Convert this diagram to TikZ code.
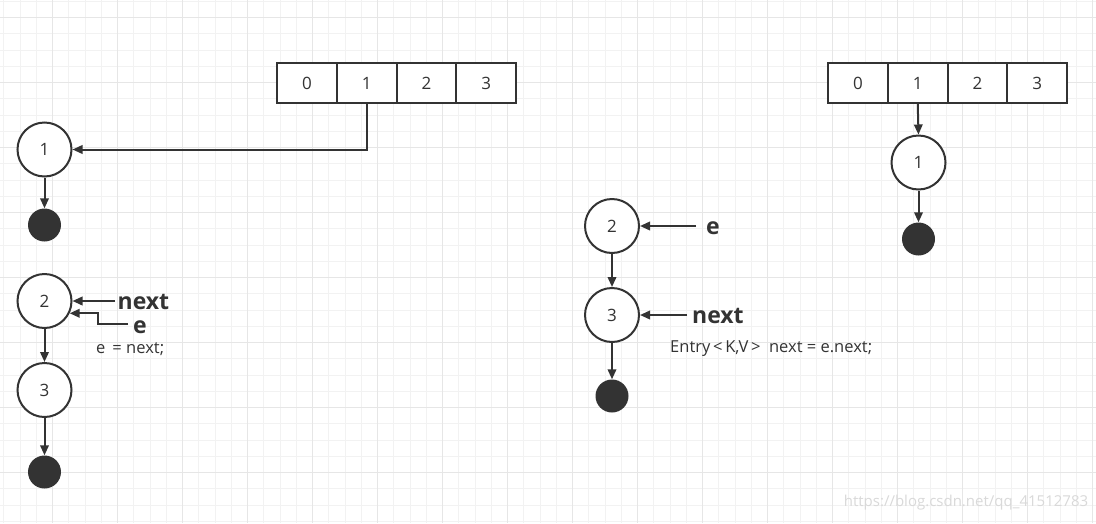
\documentclass[tikz,border=0pt]{standalone}
\usepackage{fontspec}
\setmainfont{Open Sans}
\usetikzlibrary{arrows.meta}
\definecolor{lc}{HTML}{333333}
\definecolor{gmin}{HTML}{F2F2F2}
\definecolor{gmaj}{HTML}{E6E6E6}
\definecolor{wm}{HTML}{D9D9D9}
\begin{document}
\begin{tikzpicture}[x=1pt,y=-1pt,
  circ/.style={circle, draw=lc, line width=2pt, minimum size=54pt, inner sep=0pt, fill=white, text=lc, font=\fontsize{17}{17}\selectfont},
  blob/.style={circle, fill=lc, minimum size=33pt, inner sep=0pt},
  cell/.style={rectangle, draw=lc, line width=2pt, minimum width=59.75pt, minimum height=40pt, inner sep=0pt, fill=white, text=lc, font=\fontsize{17}{17}\selectfont},
  arr/.style={-{Triangle[length=10pt,width=8.5pt]}, line width=2pt, draw=lc},
  lbl/.style={text=lc, font=\bfseries\fontsize{23}{23}\selectfont, inner sep=0pt, anchor=west},
  code/.style={text=lc, font=\fontsize{16.5}{16.5}\selectfont, inner sep=0pt, anchor=west}]
\useasboundingbox (0,0) rectangle (1096,523);
\fill[white] (0,0) rectangle (1096,523);
% grid
\foreach \i in {0,...,67} {\draw[gmin, line width=1pt] (3.75+16.25*\i,0) -- (3.75+16.25*\i,523);}
\foreach \i in {0,...,32} {\draw[gmin, line width=1pt] (0,1.25+16.25*\i) -- (1096,1.25+16.25*\i);}
\foreach \i in {0,...,16} {\draw[gmaj, line width=1pt] (52.5+65*\i,0) -- (52.5+65*\i,523);}
\foreach \i in {0,...,7} {\draw[gmaj, line width=1pt] (0,17.5+65*\i) -- (1096,17.5+65*\i);}
% left array
\foreach \k in {0,1,2,3} {\node[cell] (a\k) at (306.9+59.75*\k,83) {\k};}
\node[circ] (n1) at (44.5,149.5) {1};
\node[blob] (d1) at (44.5,225) {};
\draw[arr] (a1.south) |- (n1.east);
\draw[arr] (n1.south) -- (d1.north);
% left chain 2 -> 3
\node[circ] (n2) at (44.5,301) {2};
\node[circ] (n3) at (44.5,390) {3};
\node[blob] (d3) at (44.5,472) {};
\draw[arr] (n2.south) -- (n3.north);
\draw[arr] (n3.south) -- (d3.north);
\node[lbl] (nextL) at (117.5,302) {next};
\node[lbl] (eL) at (133,327) {e};
\coordinate (eLs) at (128,324);
\coordinate (nextLs) at (115,301);
\draw[arr] (nextLs) -- (n2.east);
\draw[arr] (eLs) -| ([xshift=28.5pt]n2.-26) -- (n2.-26);
\node[code] (cL) at (96,349) {e\,\ = next;};
% middle
\node[circ] (m2) at (612,226) {2};
\node[circ] (m3) at (612,315) {3};
\node[blob] (md) at (612,396) {};
\draw[arr] (m2.south) -- (m3.north);
\draw[arr] (m3.south) -- (md.north);
\node[lbl] (eM) at (706,228) {e};
\coordinate (eMs) at (696,226);
\draw[arr] (eMs) -- (m2.east);
\node[lbl] (nextM) at (692,316) {next};
\coordinate (nextMs) at (687,315);
\draw[arr] (nextMs) -- (m3.east);
\node[code] (cM) at (670,349) {Entry\,<\,K,V\,>\ \ next = e.next;};
% right array
\foreach \k in {0,1,2,3} {\node[cell] (b\k) at (858+59.75*\k,83) {\k};}
\node[circ] (r1) at (918.5,162.5) {1};
\node[blob] (rd) at (918.5,239) {};
\draw[arr] (b1.south) -- (r1.north);
\draw[arr] (r1.south) -- (rd.north);
% watermark
\node[text=wm, font=\fontsize{15}{15}\selectfont, inner sep=0pt] (wmk) at (966,503) {https://blog.csdn.net/qq\_41512783};
\end{tikzpicture}
\end{document}
